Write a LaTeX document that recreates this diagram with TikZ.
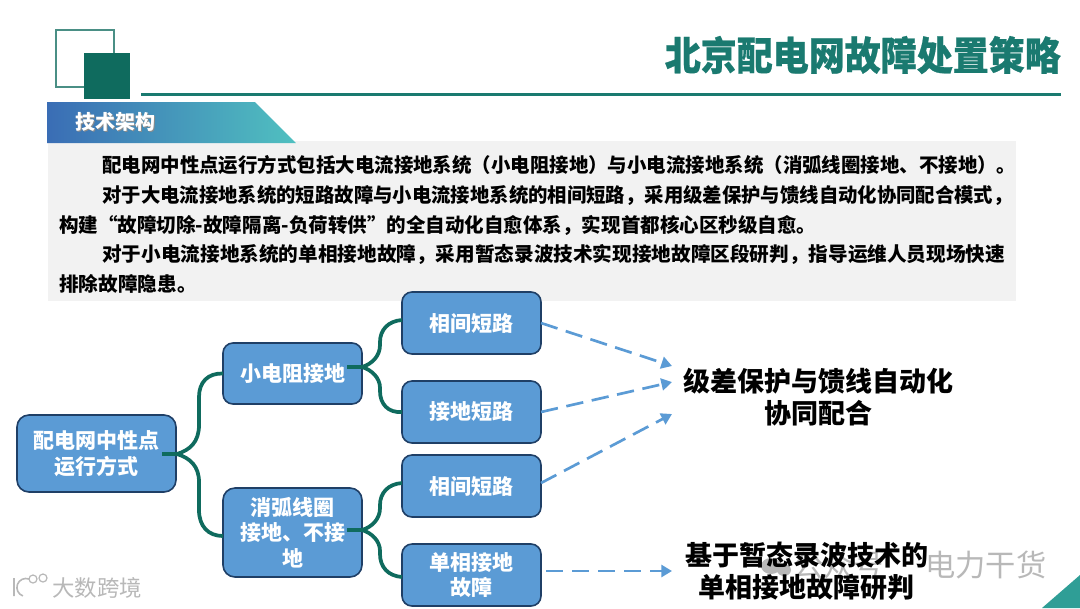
\documentclass[tikz,border=0pt]{standalone}
\usepackage{fontspec}
\setmainfont{Noto Sans CJK SC}
\usetikzlibrary{calc,arrows.meta}
\definecolor{teal1}{HTML}{0F6B5E}
\definecolor{teal2}{HTML}{1A7A70}
\definecolor{teal3}{HTML}{4A8F85}
\definecolor{boxblue}{HTML}{5B9BD5}
\definecolor{boxedge}{HTML}{1F3F66}
\definecolor{wmgray}{HTML}{B8B8B8}
\definecolor{banL}{HTML}{3A6DB5}
\definecolor{banR}{HTML}{50C0C0}
\definecolor{corner}{HTML}{2F9E96}
\tikzset{
  bsize/.style 2 args={minimum width=#1*0.75pt,minimum height=#2*0.75pt},
  fbox/.style={draw=boxedge,line width=1.2pt,outer sep=0pt,fill=boxblue,rounded corners=7.5pt,text=white,font=\fontsize{15.75pt}{19pt}\selectfont\bfseries,align=center,inner sep=0pt,anchor=north west},
  bodyline/.style={anchor=west,inner sep=0pt,font=\fontsize{14.72pt}{17pt}\selectfont\bfseries,text=black},
  conn/.style={draw=teal1,line width=2.8pt},
  dasharrow/.style={draw=boxblue,line width=2pt,dash pattern=on 13pt off 6.5pt,-{Triangle[length=8pt,width=9pt]}},
  result/.style={align=center,inner sep=0pt,font=\fontsize{20.25pt}{24pt}\selectfont\bfseries,text=black},
}
\begin{document}
\begin{tikzpicture}[x=0.75pt,y=-0.75pt]
\useasboundingbox (0,0) rectangle (1080,608);
\fill[white] (0,0) rectangle (1080,608);
% header decoration
\draw[teal3,line width=1.2pt] (56,30) rectangle (114,87);
\fill[teal1] (84,53) rectangle (130,99);
\draw[teal2,line width=1.8pt] (141,94.5) -- (1061,94.5);
\node[anchor=east,inner sep=0pt,text=teal2,font=\fontsize{29.6pt}{34pt}\selectfont\bfseries] (title) at (1061,55) {\scalebox{0.912}[1]{\addfontfeature{FakeBold=0.6}北京配电网故障处置策略}};
% text panel
\fill[black!5] (48,141) rectangle (1016,301);
% banner
\path[left color=banL,right color=banR] (47,102) -- (255,102) -- (296,143) -- (47,143) -- cycle;
\node[anchor=west,inner sep=0pt,text=black!45,font=\fontsize{15pt}{18pt}\selectfont\bfseries] at (76,123) {技术架构};
\node[anchor=west,inner sep=0pt,text=white,font=\fontsize{15pt}{18pt}\selectfont\bfseries] (sec) at (75,122) {技术架构};
% body
\node[bodyline] (l1) at (102,165) {\scalebox{0.991}[1]{配电网中性点运行方式包括大电流接地系统（小电阻接地）与小电流接地系统（消弧线圈接地、不接地）。}};
\node[bodyline] (l2) at (102,195) {\scalebox{0.987}[1]{对于大电流接地系统的短路故障与小电流接地系统的相间短路，采用级差保护与馈线自动化协同配合模式，}};
\node[bodyline] (l3) at (59,225) {\scalebox{0.995}[1]{构建“故障切除-故障隔离-负荷转供”的全自动化自愈体系，实现首都核心区秒级自愈。}};
\node[bodyline] (l4) at (102,254) {对于小电流接地系统的单相接地故障，采用暂态录波技术实现接地故障区段研判，指导运维人员现场快速};
\node[bodyline] (l5) at (59,284) {排除故障隐患。};
% watermarks
\node[anchor=west,inner sep=0pt,text=wmgray,font=\fontsize{16.8pt}{19pt}\selectfont] (wm1) at (52,588) {大数跨境};
\draw[wmgray,line width=1.2pt] (14,578) -- (14,596) (29,579) arc[start angle=-70,end angle=-250,radius=9];
\draw[wmgray,line width=0.9pt] (33,579) circle (4) (43,578) circle (4);
\node[anchor=west,inner sep=0pt,text=wmgray,font=\fontsize{22.7pt}{26pt}\selectfont] (wm2) at (793,565) {公众号};
\node[anchor=west,inner sep=0pt,text=wmgray,font=\fontsize{22.7pt}{26pt}\selectfont] (wm3) at (925,565) {电力干货};
\fill[wmgray] (771,566) ellipse (10 and 8) (784,570) ellipse (7 and 6);
% corner
\fill[corner] (1042,608) -- (1080,575) -- (1080,608) -- cycle;
% connector junctions
\coordinate (jr) at (177,454);
\coordinate (jd) at (362,367);
\coordinate (jh) at (362,530);
% boxes
\node[fbox,rounded corners=9pt,bsize={159}{77}] (root) at (17,415) {配电网中性点\\运行方式};
\node[fbox,bsize={139}{61}] (xd) at (223,343) {小电阻接地};
\node[fbox,rounded corners=9pt,bsize={139}{89},font=\fontsize{15.75pt}{19.2pt}\selectfont\bfseries] (xh) at (223,488) {消弧线圈\\接地、不接\\地};
\node[fbox,bsize={139}{62}] (a1) at (402,292) {相间短路};
\node[fbox,bsize={139}{62}] (a2) at (402,381) {接地短路};
\node[fbox,bsize={139}{62}] (a3) at (402,455) {相间短路};
\node[fbox,bsize={139}{62}] (a4) at (402,544) {单相接地\\故障};
% tree connectors
\draw[conn] ($(root.east)+(-14,0.5)$) -- (jr) .. controls (190,450) and (199,442) .. (199,425) -- (199,397) .. controls (199,382) and (208,373) .. (xd.west);
\draw[conn] (jr) .. controls (190,458) and (199,466) .. (199,482) -- (199,510) .. controls (199,526) and (208,536) .. ($(xh.west)+(0,3.5)$);
\draw[conn] ($(xd.east)+(-15,-6.5)$) -- (jd) .. controls (372,364) and (380,356) .. (380,345) -- (380,342) .. controls (380,330) and (388,321) .. ($(a1.west)+(0,-3)$);
\draw[conn] (jd) .. controls (372,370) and (380,378) .. (380,388) -- (380,391) .. controls (380,404) and (388,413) .. (a2.west);
\draw[conn] ($(xh.east)+(-15,-2.5)$) -- (jh) .. controls (372,527) and (380,519) .. (380,508) -- (380,505) .. controls (380,493) and (388,484) .. ($(a3.west)+(0,-3)$);
\draw[conn] (jh) .. controls (372,533) and (380,541) .. (380,551) -- (380,554) .. controls (380,567) and (388,576) .. ($(a4.west)+(0,2)$);
% results
\node[result] (r1) at (818,397.5) {级差保护与馈线自动化\\协同配合};
\node[result] (r2) at (806.5,571) {基于暂态录波技术的\\单相接地故障研判};
% dashed arrows
\coordinate (t1) at (672,366);
\coordinate (t2) at (672,382);
\coordinate (t3) at (672,414);
\coordinate (t4) at (672,571);
\draw[dasharrow] (a1.east) -- (t1);
\draw[dasharrow] (a2.east) -- (t2);
\draw[dasharrow] ($(a3.east)+(0,-3)$) -- (t3);
\draw[dasharrow] ($(a4.east)+(5,-4)$) -- (t4);
\end{tikzpicture}
\end{document}
